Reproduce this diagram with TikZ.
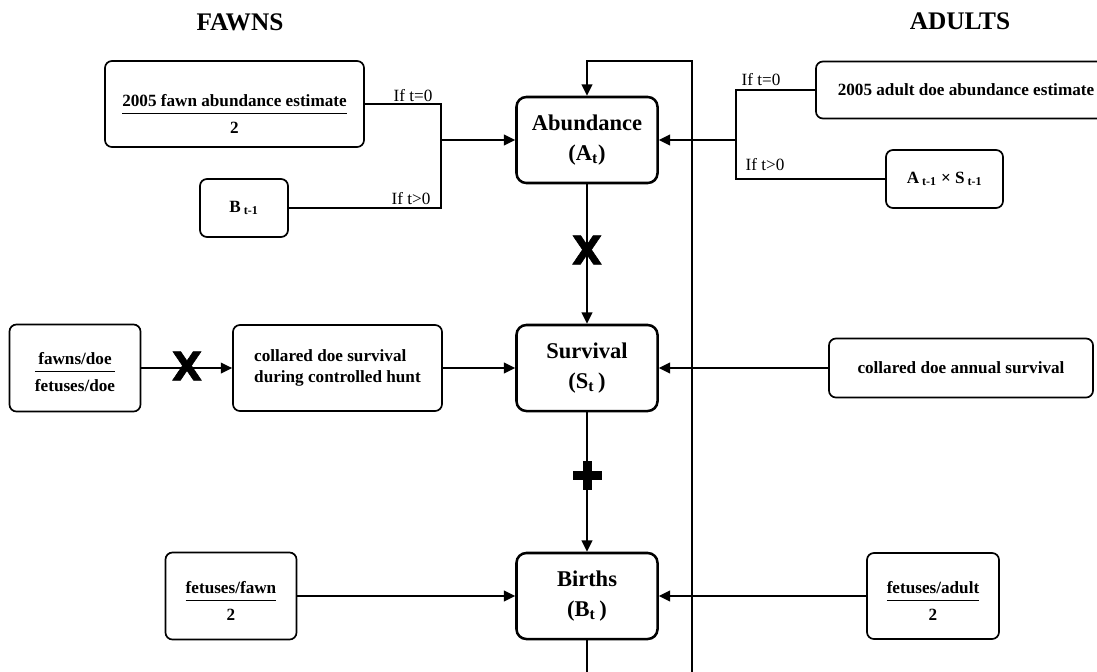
\documentclass[tikz,border=0pt]{standalone}
\usepackage{amsmath}
\usepackage{fontspec}
\setmainfont{Liberation Serif}
\newfontfamily\heavyfont[BoldFeatures={FakeBold=1.5}]{DejaVu Sans}
\usetikzlibrary{arrows.meta}

\newcommand{\ratio}[3][0pt]{\raisebox{-#1}[\height][\depth]{$\genfrac{}{}{0.9pt}{0}{\mbox{#2}}{\mbox{\rule{0pt}{11pt}#3}}$}}

\begin{document}
\begin{tikzpicture}[x=0.025cm, y=-0.025cm,
	box/.style={draw, line width=1.2pt, rounded corners=5pt, inner sep=0pt, font=\bfseries\fontsize{12.2}{14.5}\selectfont},
	mainbox/.style={draw, line width=1.8pt, rounded corners=7pt, inner sep=0pt, minimum width=3.525cm, minimum height=2.15cm, align=center, font=\bfseries\fontsize{16}{21}\selectfont},
	link/.style={line width=1.4pt},
	arr/.style={link, -{Triangle[length=8pt, width=7.5pt]}},
	ifnote/.style={inner sep=0pt, font=\fontsize{12.2}{14}\selectfont},
	heading/.style={font=\bfseries\fontsize{18}{20}\selectfont},
	timesign/.style={inner sep=0pt, font=\heavyfont\bfseries\fontsize{28}{28}\selectfont}]
	
	\useasboundingbox (0,0) rectangle (1097,671);
	
	%TITOLI
	\node[heading] (fawns) at (240,22) {FAWNS};
	\node[heading] (adults) at (960,21) {ADULTS};
	
	%CENTRO
	\node[mainbox] (abund) at (587,140) {Abundance\\(A\textsubscript{t})};
	\node[mainbox] (surv) at (587,368) {Survival\\(S\textsubscript{t}\,)};
	\node[mainbox] (births) at (587,596) {Births\\(B\textsubscript{t}\,)};
	
	%linee
	\draw[arr] (abund) -- (surv);
	\node[timesign] (xmid) at (587,250) {X};
	\draw[arr] (surv) -- (births);
	\coordinate (plus) at (587,475);
	\fill (plus) ++(-14.5,-4.5) rectangle ++(29,9);
	\fill (plus) ++(-4.5,-14.5) rectangle ++(9,29);
	
	\coordinate (loopbl) at (587,690);
	\coordinate (loopbr) at (692,690);
	\coordinate (looptr) at (692,61);
	\coordinate (looptl) at (587,61);
	\draw[arr] (births.south) -- (loopbl) -- (loopbr) -- (looptr) -- (looptl) -- (abund.north);
	
	
	
	%FAWNS
	\node[box, minimum width=6.475cm, minimum height=2.15cm] (fawnest) at (234.5,104) {\ratio[7pt]{2005 fawn abundance estimate}{2}};
	\node[box, minimum width=2.2cm, minimum height=1.45cm] (bprev) at (244,208) {B\,\textsubscript{t-1}};
	\node[box, minimum width=3.275cm, minimum height=2.175cm] (fawndoe) at (75,368) {\ratio[3pt]{fawns/doe}{fetuses/doe}};
	\node[box, minimum width=5.225cm, minimum height=2.15cm, align=left] (hunt) at (337.5,368) {collared doe survival\\during controlled hunt};
	\node[box, minimum width=3.275cm, minimum height=2.175cm] (fetfawn) at (231,596) {\ratio[3.5pt]{fetuses/fawn}{2}};
	
	%linee
	\coordinate (lbranch) at (441,140);
	\draw[link] (fawnest.east) -| (lbranch);
	\draw[link] (bprev.east) -| (lbranch);
	\draw[arr] (lbranch) -- (abund.west);
	\node[ifnote] (lfirst) at (413,96) {If t=0};
	\node[ifnote] (llater) at (411,199) {If t>0};
	
	\draw[arr] (fawndoe) -- (hunt);
	\node[timesign] (xleft) at (187,366) {X};
	\draw[arr] (hunt) -- (surv);
	\draw[arr] (fetfawn) -- (births);
	
	
	
	%ADULTS
	\node[box, minimum width=7.5cm, minimum height=1.425cm] (adultest) at (966,90) {2005 adult doe abundance estimate};
	\node[box, minimum width=2.925cm, minimum height=1.45cm] (prod) at (944.5,179) {A\,\textsubscript{t-1} × S\,\textsubscript{t-1}};
	\node[box, minimum width=6.6cm, minimum height=1.475cm] (annual) at (961,368) {collared doe annual survival};
	\node[box, minimum width=3.3cm, minimum height=2.15cm] (fetadult) at (933,596) {\ratio[3.5pt]{fetuses/adult}{2}};
	
	%linee
	\coordinate (rbranch) at (736,140);
	\draw[link] (adultest.west) -| (rbranch);
	\draw[link] (prod.west) -| (rbranch);
	\draw[arr] (rbranch) -- (abund.east);
	\node[ifnote] (rfirst) at (761,80) {If t=0};
	\node[ifnote] (rlater) at (765,165) {If t>0};
	
	\draw[arr] (annual) -- (surv);
	\draw[arr] (fetadult) -- (births);
	
\end{tikzpicture}
\end{document}
